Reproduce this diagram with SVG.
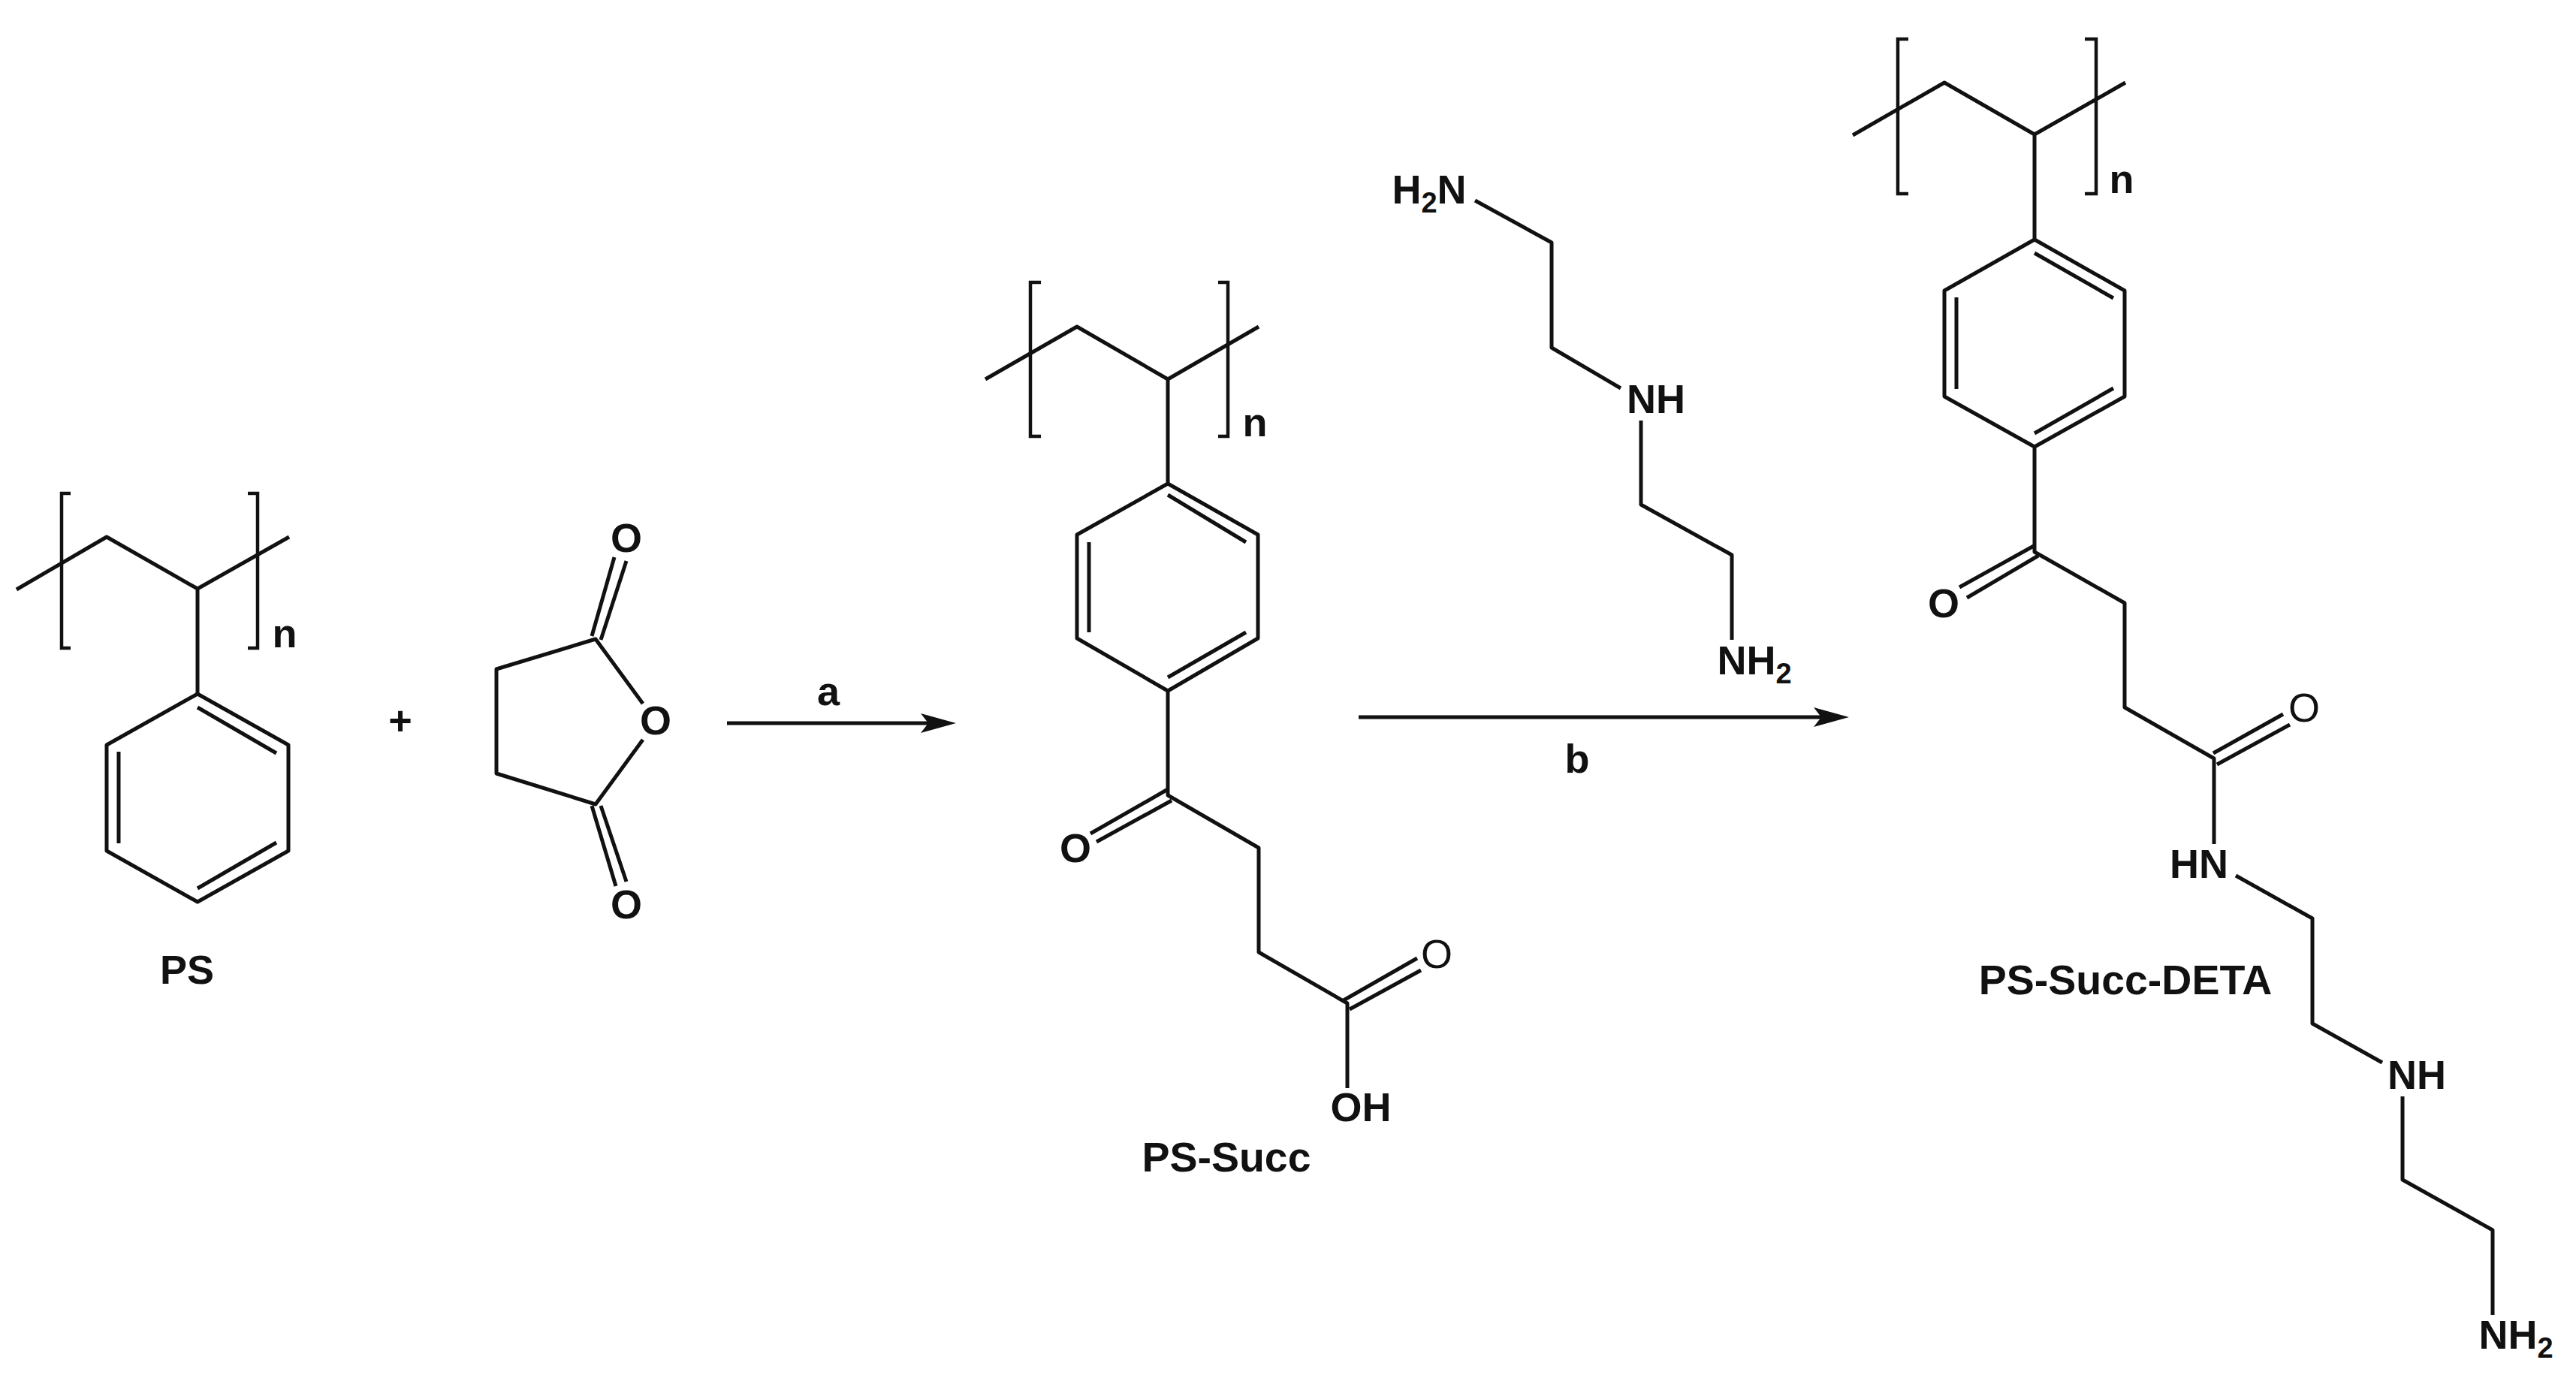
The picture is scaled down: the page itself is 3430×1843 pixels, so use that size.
<svg xmlns="http://www.w3.org/2000/svg" width="3430" height="1843" viewBox="0 0 3430 1843">
<style>
.b{fill:none;stroke:#111;stroke-width:5;stroke-linejoin:round;stroke-linecap:butt}
.k{fill:none;stroke:#111;stroke-width:4.5}
text{font-family:"Liberation Sans",Arial,sans-serif;font-size:54px;font-weight:700;fill:#111;text-anchor:middle}
.r{font-weight:400}
.s{font-size:38px}
.t{font-size:55.5px}
</style>
<defs>
<marker id="head" viewBox="0 0 47 26" refX="10" refY="13" markerWidth="47" markerHeight="26" markerUnits="userSpaceOnUse" orient="auto"><path d="M0,0L47,13L0,26L10,13Z" fill="#111"/></marker>
</defs>
<rect width="3430" height="1843" fill="#fff"/>
<g id="connectors">
<path class="b" d="M968,963H1236" marker-end="url(#head)"/>
<path class="b" d="M1809,955H2425" marker-end="url(#head)"/>
</g>
<g id="ps">
<path class="b" d="M22,785L142,715L263,784L385,715M263,784V924L384,992V1133L263,1201L142,1133V992L263,924"/>
<path class="b" d="M263,942L368,1003M158,1001V1123M263,1183L368,1122"/>
<path class="k" d="M94,657H82V863H94M330,657H343V863H330"/>
<text x="379" y="862">n</text>
<text x="249" y="1310">PS</text>
</g>
<g id="plus"><text x="533" y="978">+</text></g>
<g id="anhydride">
<path class="b" d="M856,937L793,851L661,891V1030L793,1071L856,985"/>
<path class="b" d="M788,847L818,742M800,852L834,747M788,1073L820,1180M800,1073L834,1174"/>
<text x="834" y="735">O</text>
<text x="873" y="978">O</text>
<text x="834" y="1223">O</text>
</g>
<g id="label-a"><text x="1103" y="939">a</text></g>
<g id="ps-succ">
<path class="b" d="M1312,505L1434,435L1555,505L1676,435M1555,505V644L1675,712V850L1555,920L1434,850V712L1555,644M1555,920V1059L1676,1129V1268L1794,1336V1449"/>
<path class="b" d="M1555,659L1659,722M1450,722V842M1555,902L1659,842"/>
<path class="b" d="M1555,1051L1452,1110M1560,1066L1460,1121M1789,1332L1887,1276M1797,1344L1892,1292"/>
<path class="k" d="M1386,376H1372V581H1386M1622,376H1635V581H1622"/>
<text x="1671" y="581">n</text>
<text x="1432" y="1148">O</text>
<text class="r" x="1913" y="1289">O</text>
<text x="1812" y="1493">OH</text>
<text class="t" x="1633" y="1560">PS-Succ</text>
</g>
<g id="deta">
<path class="b" d="M1964,267L2066,323V463L2158,517M2185,560V672L2306,739V852"/>
<text x="1903" y="271">H<tspan class="s" dy="12">2</tspan><tspan dy="-12">N</tspan></text>
<text x="2205" y="550">NH</text>
<text x="2336" y="898">NH<tspan class="s" dy="12">2</tspan></text>
</g>
<g id="label-b"><text x="2100" y="1029">b</text></g>
<g id="ps-succ-deta">
<path class="b" d="M2467,180L2589,110L2709,179L2830,110M2709,179V319L2829,387V528L2709,595L2589,528V387L2709,319M2709,595V735L2829,803V942L2948,1010V1124"/>
<path class="b" d="M2709,337L2814,397M2605,396V518M2709,577L2814,517"/>
<path class="b" d="M2708,727L2609,782M2714,740L2619,796M2947,1003L3040,951M2952,1018L3049,965"/>
<path class="b" d="M2977,1166L3079,1223V1363L3172,1415M3199,1460V1571L3319,1638V1751"/>
<path class="k" d="M2541,52H2527V258H2541M2776,52H2791V258H2776"/>
<text x="2825" y="257">n</text>
<text x="2588" y="822">O</text>
<text class="r" x="3068" y="961">O</text>
<text x="2928" y="1169">HN</text>
<text x="3218" y="1450">NH</text>
<text x="3350" y="1796">NH<tspan class="s" dy="12">2</tspan></text>
<text class="t" x="2830" y="1324">PS-Succ-DETA</text>
</g>
</svg>
